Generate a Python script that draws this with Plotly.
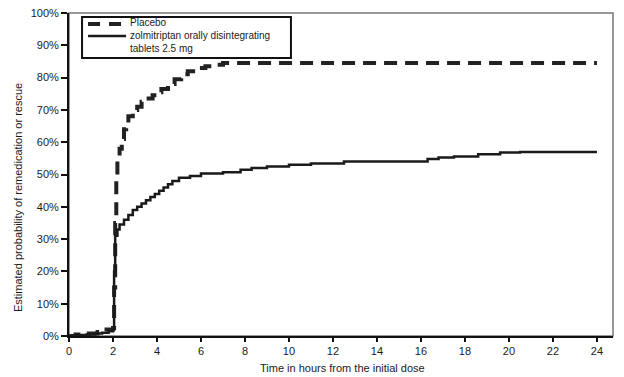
import plotly.graph_objects as go

# Placebo (Kaplan-Meier style step curve), time in hours, percent
placebo_t = [0, 0.3, 0.9, 1.3, 1.6, 2.0, 2.05, 2.1, 2.15, 2.2, 2.3, 2.4, 2.5, 2.6, 2.7,
             2.9, 3.1, 3.3, 3.5, 3.8, 4.0, 4.2, 4.5, 4.8, 5.1, 5.4, 5.8, 6.2, 6.6, 7.0, 24]
placebo_v = [0, 0.5, 0.8, 1.2, 2.0, 2.5, 15, 35, 50, 55, 58, 61, 64, 66, 68,
             70, 71, 72.5, 73.5, 74.5, 75.5, 76.5, 78, 79.5, 81, 82, 83, 83.5, 84, 84.5, 84.5]

# Zolmitriptan orally disintegrating tablets 2.5 mg
zolmi_t = [0, 0.3, 0.8, 1.2, 1.5, 1.8, 2.0, 2.05, 2.1, 2.2, 2.3, 2.5, 2.7, 2.9, 3.1, 3.3,
           3.5, 3.7, 3.9, 4.1, 4.3, 4.5, 4.7, 5.0, 5.5, 6.0, 7.0, 7.8, 8.3, 9.0, 10.0, 11.0,
           12.5, 16.3, 16.8, 17.5, 18.6, 19.6, 20.5, 24]
zolmi_v = [0, 0.3, 0.5, 0.8, 1.0, 1.5, 2.0, 20, 31, 33, 34.5, 36, 37.5, 39, 40, 41,
           42, 43, 44, 45, 46, 47, 48, 49, 49.5, 50.3, 50.7, 51.5, 52, 52.5, 53, 53.4,
           54, 54.8, 55.3, 55.6, 56.3, 56.8, 57, 57]

series_names = ["Placebo", "zolmitriptan orally disintegrating<br>tablets 2.5 mg"]

x_ticks = list(range(0, 25, 2))
y_ticks = list(range(0, 101, 10))
y_labels = [f"{v}%" for v in y_ticks]

x_title = "Time in hours from the initial dose"
y_title = "Estimated probability of remedication or rescue"

FONT = "Liberation Sans Narrow, Arial Narrow, Liberation Sans, sans-serif"
INK = "#1a1a1a"
PLACEBO_STYLE = dict(color="#222222", width=4, dash="13px,8px")
ZOLMI_STYLE = dict(color=INK, width=2.5)

fig = go.Figure()
fig.add_trace(go.Scatter(
    x=placebo_t, y=placebo_v, mode="lines", line_shape="hv",
    name=series_names[0], line=PLACEBO_STYLE,
))
fig.add_trace(go.Scatter(
    x=zolmi_t, y=zolmi_v, mode="lines", line_shape="hv",
    name=series_names[1], line=ZOLMI_STYLE,
))

# compact legend box (drawn as decoration so its height matches the original)
legend_shapes = [
    dict(type="rect", xref="paper", yref="paper", x0=0.024, y0=0.861, x1=0.408, y1=0.988,
         line=dict(color="#111111", width=2), fillcolor="white", layer="above"),
    dict(type="line", xref="paper", yref="paper", x0=0.035, x1=0.105, y0=0.966, y1=0.966,
         line=dict(color="#222222", width=4, dash="12px,9px"), layer="above"),
    dict(type="line", xref="paper", yref="paper", x0=0.035, x1=0.105, y0=0.929, y1=0.929,
         line=dict(color=INK, width=2.5), layer="above"),
]
legend_texts = [
    dict(text="<br>".join(series_names), xref="paper", yref="paper", x=0.108, y=0.929,
         xanchor="left", yanchor="middle", align="left", showarrow=False,
         font=dict(family=FONT, size=10, color=INK)),
]

# the page body adds an 8px offset, so the figure is 8px smaller on each axis
fig.update_layout(
    width=616, height=369,
    margin=dict(l=61, r=11, t=5, b=41, autoexpand=False),
    paper_bgcolor="white", plot_bgcolor="white",
    font=dict(family=FONT, size=11, color=INK),
    showlegend=False,
    xaxis=dict(
        range=[0, 24.73], tickvals=x_ticks, ticktext=[str(v) for v in x_ticks],
        automargin=False, ticklabeloverflow="allow",
        showgrid=False, zeroline=False, showline=True, linecolor="#111111", linewidth=2,
        ticks="outside", ticklen=4, tickwidth=2, tickcolor="#111111",
    ),
    yaxis=dict(
        range=[0, 100], tickvals=y_ticks, ticktext=y_labels,
        automargin=False, ticklabeloverflow="allow",
        showgrid=False, zeroline=False, showline=True, linecolor="#111111", linewidth=2,
        ticks="outside", ticklen=6, tickwidth=1.5, tickcolor="#111111",
    ),
    annotations=[
        dict(text=x_title, xref="paper", yref="paper", x=0.502, y=0, yshift=-32,
             xanchor="center", yanchor="middle", showarrow=False,
             font=dict(family=FONT, size=11, color=INK)),
        dict(text=y_title, xref="paper", yref="paper", x=0, y=0.427, xshift=-51,
             xanchor="center", yanchor="middle", textangle=-90, showarrow=False,
             font=dict(family=FONT, size=11, color=INK)),
    ] + legend_texts,
    shapes=[dict(type="rect", xref="paper", yref="paper", x0=0, y0=0, x1=1, y1=1,
                 line=dict(color="#777777", width=1.5), layer="below")] + legend_shapes,
)

fig.write_html("out.html")
